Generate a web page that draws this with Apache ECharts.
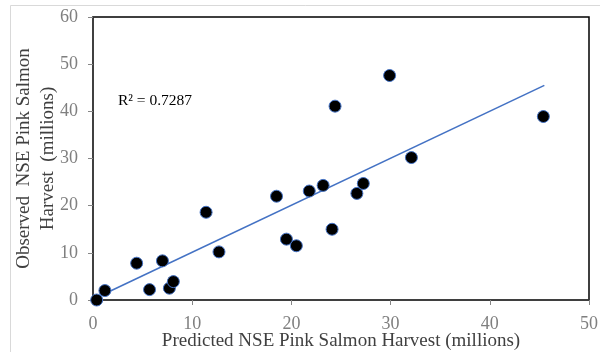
<!DOCTYPE html>
<html>
<head>
<meta charset="utf-8">
<script src="https://cdn.jsdelivr.net/npm/echarts@6/dist/echarts.min.js"></script>
<style>html,body{margin:0;padding:0;background:#fff}#c{width:600px;height:352px}</style>
</head>
<body>
<div id="c"></div>
<script>
var predicted = [0.37, 1.2, 4.4, 5.7, 7.0, 7.7, 8.1, 11.4, 12.7, 18.5, 19.5, 20.5, 21.8, 23.2, 24.1, 26.6, 27.25, 24.4, 29.9, 32.1, 45.4];
var observed  = [0.0, 2.0, 7.8, 2.2, 8.3, 2.5, 3.9, 18.6, 10.2, 22.0, 12.9, 11.5, 23.1, 24.3, 15.0, 22.6, 24.7, 41.1, 47.6, 30.2, 38.9];
var trendX = [0.0, 45.5];
var trendY = [0.15, 45.5];
var r2Label = 'R² = 0.7287';
var xTitle = 'Predicted NSE Pink Salmon Harvest (millions)';
var yTitle = 'Observed  NSE Pink Salmon\nHarvest  (millions)';

var pts = predicted.map(function(x, i){ return [x, observed[i]]; });
var trend = trendX.map(function(x, i){ return [x, trendY[i]]; });
var font = '"Liberation Serif", "Times New Roman", serif';

var chart = echarts.init(document.getElementById('c'));
chart.setOption({
  animation: false,
  grid: { left: 93, right: 11, top: 17, bottom: 52, containLabel: false, outerBoundsMode: 'none',
          show: true, borderColor: '#000', borderWidth: 1.5, backgroundColor: 'transparent' },
  graphic: [
    { type: 'line', shape: { x1: 10.5, y1: 5.5, x2: 600, y2: 5.5 }, style: { stroke: '#d9d9d9', lineWidth: 1 } },
    { type: 'line', shape: { x1: 10.5, y1: 5.5, x2: 10.5, y2: 352 }, style: { stroke: '#d9d9d9', lineWidth: 1 } },
    { type: 'text', left: 118, top: 93, style: { text: r2Label, font: '15.5px ' + font, fill: '#000' } }
  ],
  xAxis: {
    type: 'value', min: 0, max: 50, interval: 10,
    name: xTitle, nameLocation: 'middle', nameGap: 32, nameMoveOverlap: false,
    nameTextStyle: { fontFamily: font, fontSize: 19, color: '#404040' },
    axisLine: { lineStyle: { color: '#404040', width: 1.5 } },
    axisTick: { show: true, inside: false, length: 5, lineStyle: { color: '#868686' } },
    axisLabel: { fontFamily: font, fontSize: 18, color: '#7f7f7f', margin: 15 },
    splitLine: { show: false }
  },
  yAxis: {
    type: 'value', min: 0, max: 60, interval: 10,
    name: yTitle, nameLocation: 'middle', nameGap: 33, nameRotate: 90, nameMoveOverlap: false,
    nameTextStyle: { fontFamily: font, fontSize: 19, color: '#404040', lineHeight: 24 },
    axisLine: { lineStyle: { color: '#404040', width: 1.5 } },
    axisTick: { show: true, inside: false, length: 5, lineStyle: { color: '#868686' } },
    axisLabel: { fontFamily: font, fontSize: 18, color: '#7f7f7f', margin: 15 },
    splitLine: { show: false }
  },
  series: [
    { type: 'line', data: trend, symbol: 'none', lineStyle: { color: '#4472C4', width: 1.6 }, z: 2 },
    { type: 'scatter', data: pts, symbol: 'circle', symbolSize: 12,
      itemStyle: { color: '#000', borderColor: '#4472C4', borderWidth: 1, opacity: 1 }, z: 3 }
  ]
});
</script>
</body>
</html>
